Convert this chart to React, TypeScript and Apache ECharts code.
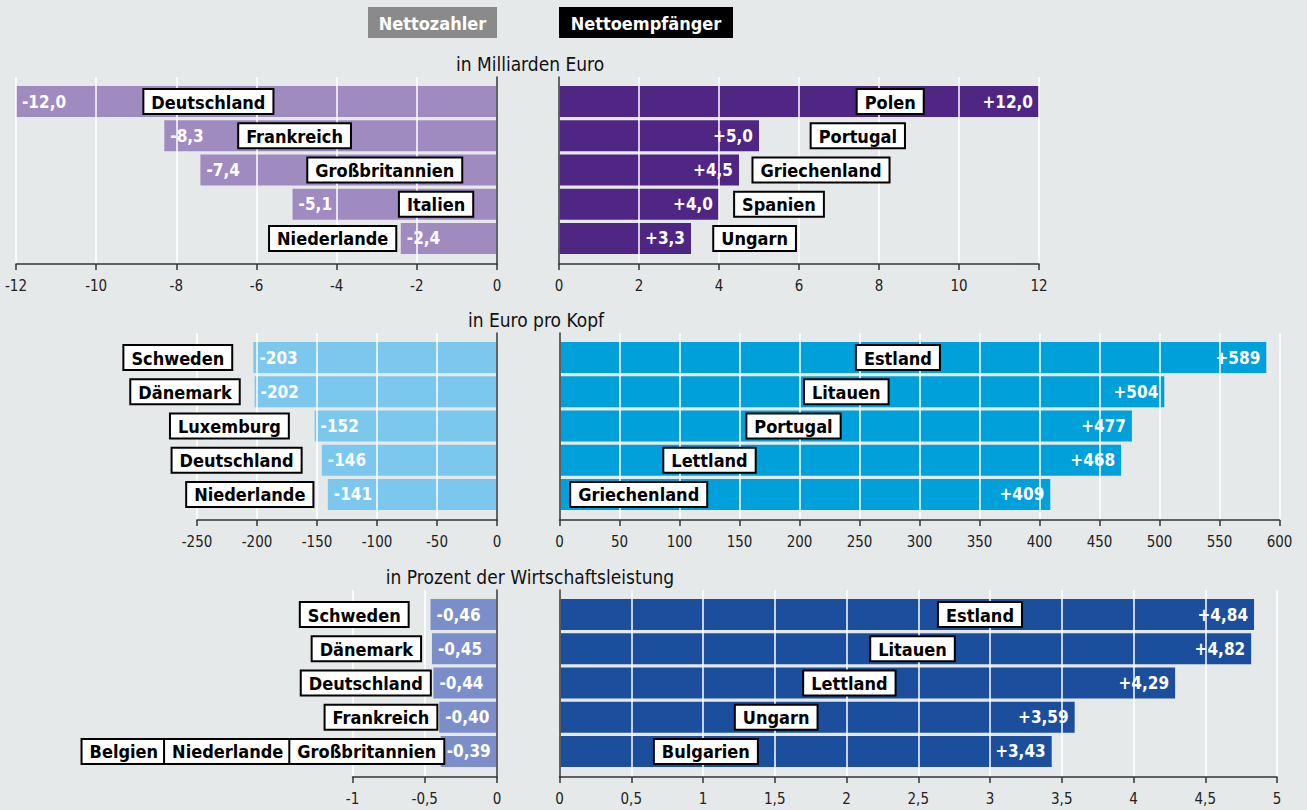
import React, { useEffect, useRef } from "react";
import * as echarts from "echarts";

const FONT = "'DejaVu Sans Condensed', 'Liberation Sans Narrow', Roboto, sans-serif";

// Legend
const legendPayers = "Nettozahler";
const legendReceivers = "Nettoempfänger";

// Panel 1: in Milliarden Euro
const title1 = "in Milliarden Euro";
const payers1 = ["Deutschland", "Frankreich", "Großbritannien", "Italien", "Niederlande"];
const payerValues1 = [-12.0, -8.3, -7.4, -5.1, -2.4];
const payerNameAt1 = [-7.2, -5.05, -2.8, -1.52, -4.1];
const receivers1 = ["Polen", "Portugal", "Griechenland", "Spanien", "Ungarn"];
const receiverValues1 = [12.0, 5.0, 4.5, 4.0, 3.3];
const receiverNameAt1 = [8.28, 7.47, 6.55, 5.5, 4.89];

// Panel 2: in Euro pro Kopf
const title2 = "in Euro pro Kopf";
const payers2 = ["Schweden", "Dänemark", "Luxemburg", "Deutschland", "Niederlande"];
const payerValues2 = [-203, -202, -152, -146, -141];
const payerNameAt2 = [-266, -260, -223, -217, -206];
const receivers2 = ["Estland", "Litauen", "Portugal", "Lettland", "Griechenland"];
const receiverValues2 = [589, 504, 477, 468, 409];
const receiverNameAt2 = [282, 239, 195, 125, 66];

// Panel 3: in Prozent der Wirtschaftsleistung
const title3 = "in Prozent der Wirtschaftsleistung";
const payers3 = ["Schweden", "Dänemark", "Deutschland", "Frankreich", "Belgien|Niederlande|Großbritannien"];
const payerValues3 = [-0.46, -0.45, -0.44, -0.40, -0.39];
const payerNameAt3 = [-0.988, -0.904, -0.908, -0.803, -1.62];
const receivers3 = ["Estland", "Litauen", "Lettland", "Ungarn", "Bulgarien"];
const receiverValues3 = [4.84, 4.82, 4.29, 3.59, 3.43];
const receiverNameAt3 = [2.93, 2.46, 2.02, 1.51, 1.02];

// Axis scales (min, max, interval)
const payerScale1 = [-12, 0, 2];
const receiverScale1 = [0, 12, 2];
const payerScale2 = [-250, 0, 50];
const receiverScale2 = [0, 600, 50];
const payerScale3 = [-1, 0, 0.5];
const receiverScale3 = [0, 5, 0.5];

// Layout (pixels) and styles
const BG = "#e6e9ea";
const AXIS = "#333333";
const panels = [
  {
    title: title1, titleX: 530, axisY: 264, decimals: 1,
    left: { names: payers1, values: payerValues1, nameAt: payerNameAt1, scale: payerScale1, x0: 16, x1: 497, color: "#a08bc1" },
    right: { names: receivers1, values: receiverValues1, nameAt: receiverNameAt1, scale: receiverScale1, x0: 559, x1: 1039, color: "#4f2683" },
  },
  {
    title: title2, titleX: 536, axisY: 520, decimals: 0,
    left: { names: payers2, values: payerValues2, nameAt: payerNameAt2, scale: payerScale2, x0: 197, x1: 497, color: "#7cc7ed" },
    right: { names: receivers2, values: receiverValues2, nameAt: receiverNameAt2, scale: receiverScale2, x0: 559.5, x1: 1279.5, color: "#00a0db" },
  },
  {
    title: title3, titleX: 530, axisY: 777, decimals: 2,
    left: { names: payers3, values: payerValues3, nameAt: payerNameAt3, scale: payerScale3, x0: 352.5, x1: 497, color: "#7b8ec9" },
    right: { names: receivers3, values: receiverValues3, nameAt: receiverNameAt3, scale: receiverScale3, x0: 559.5, x1: 1277, color: "#1b4f9d" },
  },
];

const fmtComma = (v: number, d: number) => v.toFixed(d).replace(".", ",");

function buildOption() {
  const grids: any[] = [];
  const xAxes: any[] = [];
  const yAxes: any[] = [];
  const series: any[] = [];
  const graphic: any[] = [];

  panels.forEach((p) => {
    graphic.push({
      type: "text", x: p.titleX, y: p.axisY - 200, z: 10,
      style: { text: p.title, fill: "#111", font: `19px ${FONT}`, textAlign: "center", textVerticalAlign: "middle" },
    });
    [p.left, p.right].forEach((side, si) => {
      const isLeft = si === 0;
      const [min, max, interval] = side.scale;
      const gBar = grids.length;
      grids.push({ left: side.x0, width: side.x1 - side.x0, top: p.axisY - 179.6, height: 171.2 });
      xAxes.push({ gridIndex: gBar, type: "value", min, max, show: false });
      yAxes.push({ gridIndex: gBar, type: "category", data: side.names, inverse: true, show: false });

      const gFrame = grids.length;
      grids.push({ left: side.x0, width: side.x1 - side.x0, top: p.axisY - 187, height: 187 });
      xAxes.push({
        gridIndex: gFrame, type: "value", min, max, interval, z: 3, position: "bottom",
        axisLine: { show: true, onZero: false, lineStyle: { color: AXIS, width: 1.5 } },
        axisTick: { show: true, length: 6, lineStyle: { color: AXIS, width: 1.5 } },
        axisLabel: {
          margin: 14, fontFamily: FONT, fontSize: 15, color: "#222",
          formatter: (v: number) => String(v).replace(".", ","),
        },
        splitLine: { show: true, lineStyle: { color: "#ffffff", width: 1.5 } },
      });
      yAxes.push({
        gridIndex: gFrame, type: "value", min: 0, max: 1, z: 3,
        position: isLeft ? "right" : "left",
        axisLine: { show: true, onZero: false, lineStyle: { color: AXIS, width: 1.5 } },
        axisTick: { show: false }, axisLabel: { show: false }, splitLine: { show: false },
      });

      series.push({
        type: "bar", xAxisIndex: gBar, yAxisIndex: gBar, data: side.values, barWidth: 31, z: 2,
        itemStyle: { color: side.color },
        label: {
          show: true, position: isLeft ? "insideLeft" : "insideRight", distance: 6,
          color: "#fff", fontFamily: FONT, fontWeight: "bold", fontSize: 17,
          formatter: (pp: any) => (pp.value < 0 ? "-" : "+") + fmtComma(Math.abs(pp.value), p.decimals),
        },
      });
      series.push({
        type: "scatter", xAxisIndex: gBar, yAxisIndex: gBar, clip: false, z: 6,
        symbol: "rect", symbolSize: 0, itemStyle: { color: "transparent", opacity: 1 },
        data: side.nameAt.map((x: number, i: number) => ({ value: [x, i], name: side.names[i] })),
        label: {
          show: true, position: "inside", opacity: 1,
          formatter: (pp: any) => String(pp.name).split("|").map((s) => `{n|${s}}`).join(""),
          rich: {
            n: {
              fontFamily: FONT, fontWeight: "bold", fontSize: 18, color: "#000",
              backgroundColor: "#fff", borderColor: "#000", borderWidth: 2,
              padding: [3, 7, 2, 7], lineHeight: 21,
            },
          },
        },
      });
    });
  });

  graphic.push(
    { type: "rect", shape: { x: 368, y: 7, width: 129, height: 31 }, style: { fill: "#8a8a8a" } },
    { type: "text", x: 432.5, y: 23, style: { text: legendPayers, fill: "#fff", font: `bold 18px ${FONT}`, textAlign: "center", textVerticalAlign: "middle" } },
    { type: "rect", shape: { x: 559, y: 7, width: 174, height: 31 }, style: { fill: "#000" } },
    { type: "text", x: 646, y: 23, style: { text: legendReceivers, fill: "#fff", font: `bold 18px ${FONT}`, textAlign: "center", textVerticalAlign: "middle" } },
  );

  return {
    animation: false,
    backgroundColor: BG,
    grid: grids,
    xAxis: xAxes,
    yAxis: yAxes,
    series,
    graphic,
  };
}

export default function App() {
  const ref = useRef<HTMLDivElement>(null);
  useEffect(() => {
    document.body.style.margin = "0";
    const chart = echarts.init(ref.current!, undefined, { renderer: "svg" });
    chart.setOption(buildOption() as any);
    return () => chart.dispose();
  }, []);
  return <div ref={ref} style={{ width: 1307, height: 810 }} />;
}
